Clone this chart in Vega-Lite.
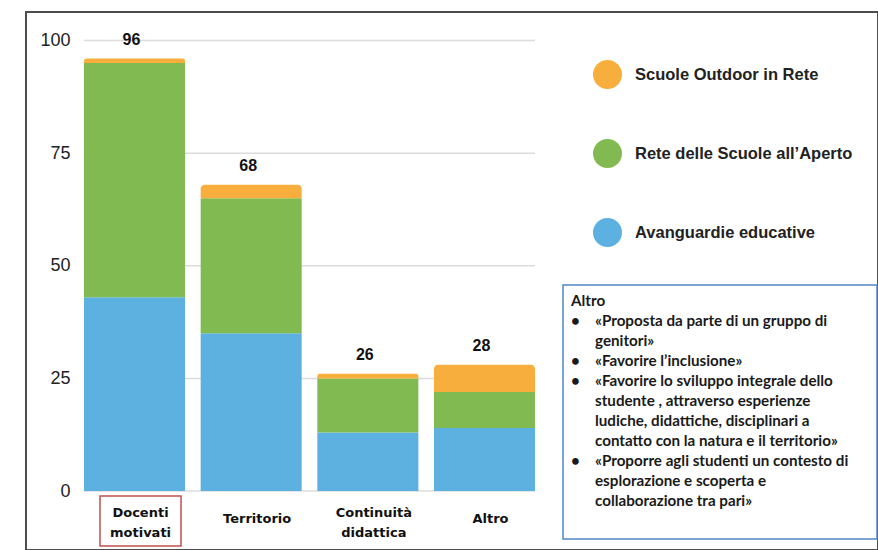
{
  "$schema": "https://vega.github.io/schema/vega-lite/v6.json",
  "width": 852,
  "height": 538,
  "autosize": {"type": "none"},
  "padding": {"left": 26, "top": 12, "right": 0, "bottom": 0},
  "background": "white",
  "config": {"view": {"stroke": "#4d4d4d", "strokeWidth": 2}, "font": "Liberation Sans"},
  "datasets": {
    "bars": [
      {"cat": "Docenti motivati", "series": "Avanguardie educative", "ord": 1, "value": 43},
      {"cat": "Docenti motivati", "series": "Rete delle Scuole all’Aperto", "ord": 2, "value": 52},
      {"cat": "Docenti motivati", "series": "Scuole Outdoor in Rete", "ord": 3, "value": 1},
      {"cat": "Territorio", "series": "Avanguardie educative", "ord": 1, "value": 35},
      {"cat": "Territorio", "series": "Rete delle Scuole all’Aperto", "ord": 2, "value": 30},
      {"cat": "Territorio", "series": "Scuole Outdoor in Rete", "ord": 3, "value": 3},
      {"cat": "Continuità didattica", "series": "Avanguardie educative", "ord": 1, "value": 13},
      {"cat": "Continuità didattica", "series": "Rete delle Scuole all’Aperto", "ord": 2, "value": 12},
      {"cat": "Continuità didattica", "series": "Scuole Outdoor in Rete", "ord": 3, "value": 1},
      {"cat": "Altro", "series": "Avanguardie educative", "ord": 1, "value": 14},
      {"cat": "Altro", "series": "Rete delle Scuole all’Aperto", "ord": 2, "value": 8},
      {"cat": "Altro", "series": "Scuole Outdoor in Rete", "ord": 3, "value": 6}
    ],
    "grid": [{"g": 0}, {"g": 25}, {"g": 50}, {"g": 75}, {"g": 100}],
    "notes": [
      {"line": 0, "col": 0, "t": "Altro"},
      {"line": 1, "col": 0, "t": "•"},
      {"line": 1, "col": 1, "t": "«Proposta da parte di un gruppo di"},
      {"line": 2, "col": 1, "t": "genitori»"},
      {"line": 3, "col": 0, "t": "•"},
      {"line": 3, "col": 1, "t": "«Favorire l’inclusione»"},
      {"line": 4, "col": 0, "t": "•"},
      {"line": 4, "col": 1, "t": "«Favorire lo sviluppo integrale dello"},
      {"line": 5, "col": 1, "t": "studente , attraverso esperienze"},
      {"line": 6, "col": 1, "t": "ludiche, didattiche, disciplinari a"},
      {"line": 7, "col": 1, "t": "contatto con la natura e il territorio»"},
      {"line": 8, "col": 0, "t": "•"},
      {"line": 8, "col": 1, "t": "«Proporre agli studenti un contesto di"},
      {"line": 9, "col": 1, "t": "esplorazione e scoperta e"},
      {"line": 10, "col": 1, "t": "collaborazione tra pari»"}
    ]
  },
  "layer": [
    {
      "data": {"name": "grid"},
      "mark": {"type": "rule", "color": "#dcdcdc", "strokeWidth": 1.5},
      "encoding": {
        "y": {"field": "g", "type": "quantitative", "scale": {"domain": [0, 100], "range": [479, 28.5], "nice": false, "zero": false}, "axis": null},
        "x": {"datum": 0, "type": "quantitative", "scale": {"domain": [0, 1], "range": [58, 509]}, "axis": null},
        "x2": {"datum": 1}
      }
    },
    {
      "encoding": {
        "x": {
          "field": "cat", "type": "nominal",
          "sort": ["Docenti motivati", "Territorio", "Continuità didattica", "Altro"],
          "scale": {"range": [58, 509], "paddingInner": 0.134, "paddingOuter": 0},
          "axis": {
            "orient": "bottom", "offset": -59, "domain": false, "ticks": false, "tickSize": 0,
            "labelPadding": {"condition": {"test": "indexof(datum.label, ' ') >= 0", "value": 21}, "value": 27},
            "labelAngle": 0, "labelBaseline": "middle", "labelOffset": 6,
            "labelExpr": "split(datum.label, ' ')",
            "labelFont": "DejaVu Sans", "labelFontWeight": "bold", "labelFontSize": 13,
            "labelLineHeight": 20, "labelColor": "#111111", "title": null, "grid": false
          }
        }
      },
      "layer": [
        {
          "data": {"name": "bars"},
          "transform": [
            {"stack": "value", "groupby": ["cat"], "sort": [{"field": "ord", "order": "ascending"}], "as": ["v0", "v1"]},
            {"filter": "datum.ord < 3"}
          ],
          "mark": {"type": "bar"},
          "encoding": {
            "y": {
              "field": "v1", "type": "quantitative",
              "scale": {"domain": [0, 100], "range": [479, 28.5], "nice": false, "zero": false},
              "axis": {
                "orient": "left", "offset": -44, "domain": false, "ticks": false, "tickSize": 0,
                "labelPadding": 0, "grid": false, "values": [0, 25, 50, 75, 100],
                "labelFont": "Liberation Sans", "labelFontSize": 18, "labelColor": "#222222",
                "labelAlign": "right", "labelBaseline": "middle", "title": null
              }
            },
            "y2": {"field": "v0"},
            "color": {
              "field": "series", "type": "nominal",
              "scale": {
                "domain": ["Scuole Outdoor in Rete", "Rete delle Scuole all’Aperto", "Avanguardie educative"],
                "range": ["#F7AE3C", "#82BA52", "#5DB1E0"]
              },
              "legend": {
                "title": null, "orient": "none", "legendX": 567, "legendY": 48,
                "symbolType": "circle", "symbolSize": 841, "symbolStrokeWidth": 0, "symbolOpacity": 1,
                "rowPadding": 50, "labelFont": "Liberation Sans", "labelFontWeight": "bold",
                "labelFontSize": 16.5, "labelColor": "#222222", "labelOffset": 13, "padding": 0, "labelLimit": 300
              }
            }
          }
        },
        {
          "data": {"name": "bars"},
          "transform": [
            {"stack": "value", "groupby": ["cat"], "sort": [{"field": "ord", "order": "ascending"}], "as": ["v0", "v1"]},
            {"filter": "datum.ord == 3"}
          ],
          "mark": {"type": "bar", "cornerRadiusTopLeft": 4, "cornerRadiusTopRight": 4},
          "encoding": {
            "y": {"field": "v1", "type": "quantitative"},
            "y2": {"field": "v0"},
            "color": {"field": "series", "type": "nominal"}
          }
        },
        {
          "data": {"name": "bars"},
          "mark": {"type": "text", "font": "Liberation Sans", "fontWeight": "bold", "fontSize": 16, "baseline": "middle", "dy": -19, "dx": -3, "color": "#111111"},
          "encoding": {
            "y": {"aggregate": "sum", "field": "value", "type": "quantitative"},
            "text": {"aggregate": "sum", "field": "value", "type": "quantitative"}
          }
        },
        {
          "data": {"values": [{"cat": "Docenti motivati"}]},
          "mark": {"type": "bar", "fill": "white", "fillOpacity": 0, "stroke": "#c0504d", "strokeWidth": 1.5, "width": 81, "xOffset": 6, "clip": false},
          "encoding": {
            "y": {"datum": -1.1, "type": "quantitative"},
            "y2": {"datum": -12.2}
          }
        }
      ]
    },
    {
      "data": {"values": [{"box": "Altro"}]},
      "mark": {"type": "rect", "fill": "white", "stroke": "#4f86c6", "strokeWidth": 1.5},
      "encoding": {
        "x": {"datum": 0, "type": "quantitative", "scale": {"domain": [0, 1], "range": [537, 851]}, "axis": null},
        "x2": {"datum": 1},
        "y": {"datum": 0, "type": "quantitative", "scale": {"domain": [0, 1], "range": [273, 527]}, "axis": null},
        "y2": {"datum": 1}
      }
    },
    {
      "data": {"name": "notes"},
      "mark": {"type": "text", "align": "left", "baseline": "middle", "font": "Lato", "fontWeight": "bold", "fontSize": 15.2, "color": "#1a1a1a"},
      "encoding": {
        "x": {"field": "col", "type": "quantitative", "scale": {"domain": [0, 1], "range": [545, 569]}, "axis": null},
        "y": {"field": "line", "type": "quantitative", "scale": {"domain": [0, 10], "range": [289, 489], "nice": false, "zero": false}, "axis": null},
        "text": {"field": "t"}
      }
    }
  ],
  "resolve": {"scale": {"x": "independent", "y": "independent"}}
}
